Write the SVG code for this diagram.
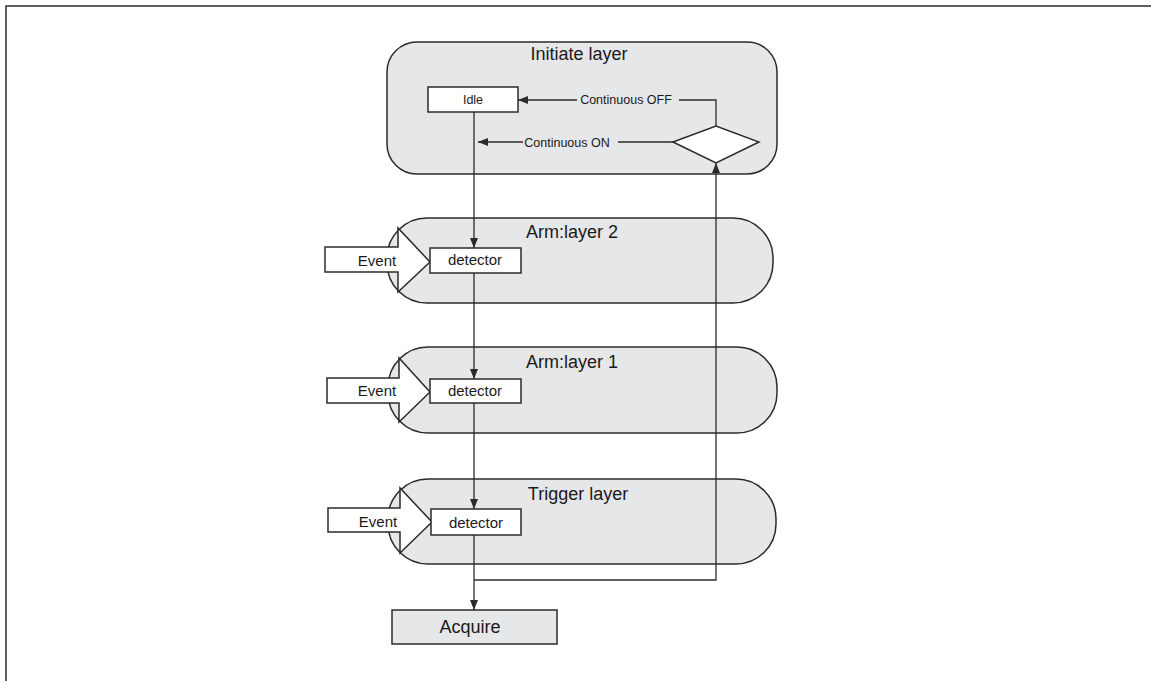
<svg xmlns="http://www.w3.org/2000/svg" width="1151" height="681" viewBox="0 0 1151 681">
<defs>
<style>
.layer{fill:#e6e7e8;stroke:#2b2b2b;stroke-width:1.5}
.box{fill:#ffffff;stroke:#2b2b2b;stroke-width:1.5}
.acq{fill:#e6e7e8;stroke:#2b2b2b;stroke-width:1.5}
.ln{fill:none;stroke:#2b2b2b;stroke-width:1.3}
text{font-family:"Liberation Sans",Arial,sans-serif;fill:#1a1a1a;text-anchor:middle}
.t18{font-size:18px}
.t15{font-size:15px}
.t12{font-size:12.5px}
</style>
<marker id="ah" viewBox="0 0 10 8" refX="10" refY="4" markerWidth="10" markerHeight="8" markerUnits="userSpaceOnUse" orient="auto">
<path d="M0,0 L10,4 L0,8 Z" fill="#2b2b2b"/>
</marker>
</defs>
<rect width="1151" height="681" fill="#ffffff"/>
<path d="M6,681 V6 H1151" fill="none" stroke="#2b2b2b" stroke-width="1.5"/>

<g id="initiate-layer">
<rect class="layer" x="387" y="42" width="390" height="132" rx="30"/>
<text class="t18" x="579" y="60">Initiate layer</text>
</g>
<g id="arm-layer-2">
<rect class="layer" x="387" y="218" width="386" height="85" rx="40"/>
<text class="t18" x="572" y="238">Arm:layer 2</text>
</g>
<g id="arm-layer-1">
<rect class="layer" x="388" y="347" width="389" height="86" rx="40"/>
<text class="t18" x="572" y="368">Arm:layer 1</text>
</g>
<g id="trigger-layer">
<rect class="layer" x="388" y="479" width="388" height="85" rx="40"/>
<text class="t18" x="578" y="500">Trigger layer</text>
</g>

<g id="connectors">
<line class="ln" x1="474" y1="112" x2="474" y2="248" marker-end="url(#ah)"/>
<line class="ln" x1="474" y1="273" x2="474" y2="379" marker-end="url(#ah)"/>
<line class="ln" x1="474" y1="403" x2="474" y2="509" marker-end="url(#ah)"/>
<line class="ln" x1="474" y1="535" x2="474" y2="610" marker-end="url(#ah)"/>
<path class="ln" d="M474,580 H716 V163" marker-end="url(#ah)"/>
<path class="ln" d="M716,126 V100 H679"/>
<line class="ln" x1="577" y1="100" x2="518" y2="100" marker-end="url(#ah)"/>
<text class="t12" x="626" y="104">Continuous OFF</text>
<line class="ln" x1="673" y1="142" x2="618" y2="142"/>
<line class="ln" x1="523" y1="142" x2="478" y2="142" marker-end="url(#ah)"/>
<text class="t12" x="567" y="147">Continuous ON</text>
</g>

<g id="idle">
<rect class="box" x="428" y="87" width="90" height="25"/>
<text class="t12" x="473" y="104">Idle</text>
</g>
<g id="decision">
<polygon class="box" points="673,142 716,126 759,142 716,163"/>
</g>

<g id="event-2">
<path class="box" d="M325,247 H398 V228 L430,262 L398,292 V272 H325 Z"/>
<text class="t15" x="377" y="266">Event</text>
</g>
<g id="detector-2">
<rect class="box" x="430" y="248" width="91" height="25"/>
<text class="t15" x="475" y="265">detector</text>
</g>

<g id="event-1">
<path class="box" d="M327,378 H399 V358 L430,392 L399,422 V403 H327 Z"/>
<text class="t15" x="377" y="396">Event</text>
</g>
<g id="detector-1">
<rect class="box" x="430" y="379" width="91" height="24"/>
<text class="t15" x="475" y="396">detector</text>
</g>

<g id="event-trigger">
<path class="box" d="M328,508 H400 V488 L432,522 L400,553 V532 H328 Z"/>
<text class="t15" x="378" y="527">Event</text>
</g>
<g id="detector-trigger">
<rect class="box" x="431" y="509" width="90" height="26"/>
<text class="t15" x="476" y="528">detector</text>
</g>

<g id="acquire">
<rect class="acq" x="392" y="610" width="165" height="34"/>
<text class="t18" x="470" y="633">Acquire</text>
</g>
</svg>
